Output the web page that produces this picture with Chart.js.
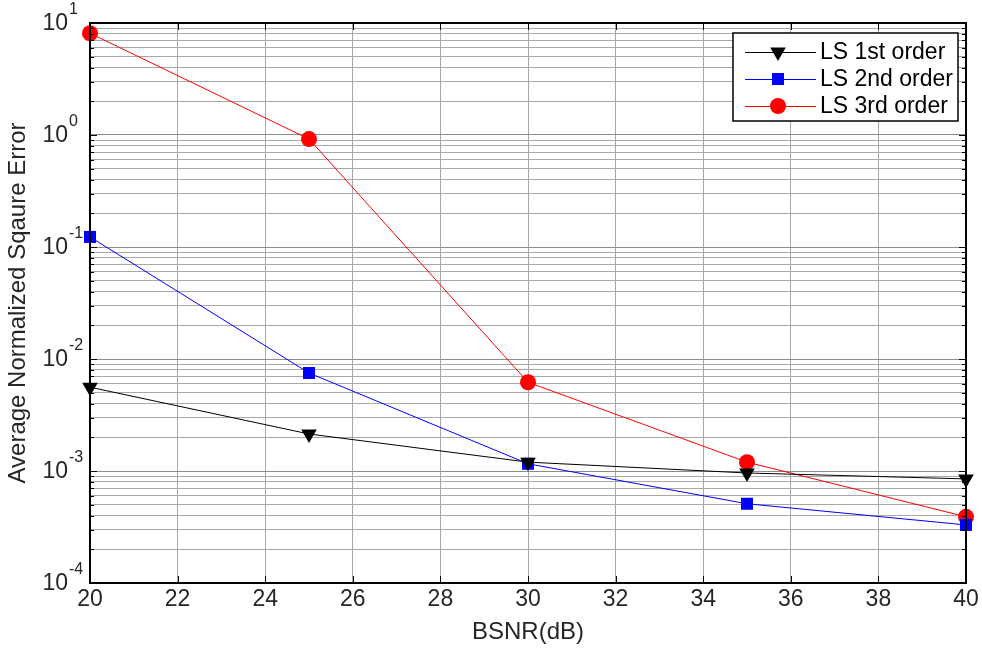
<!DOCTYPE html>
<html>
<head>
<meta charset="utf-8">
<script src="https://cdn.jsdelivr.net/npm/chart.js@4.4.1/dist/chart.umd.min.js"></script>
<style>
  html, body { margin: 0; padding: 0; background: #fff; }
  canvas { display: block; }
</style>
</head>
<body>
<canvas id="chart" width="982" height="648"></canvas>
<script>
// values
const bsnr = [20, 25, 30, 35, 40];
const ls1st = [0.0056, 0.00214, 0.0012, 0.00096, 0.00085];
const ls2nd = [0.123, 0.0075, 0.00116, 0.00051, 0.00033];
const ls3rd = [8.1, 0.92, 0.0062, 0.0012, 0.00039];
const seriesNames = ['LS 1st order', 'LS 2nd order', 'LS 3rd order'];
const xTicks = [20, 22, 24, 26, 28, 30, 32, 34, 36, 38, 40];
const decades = [-4, -3, -2, -1, 0, 1];

const FONT = 'Arial, "Liberation Sans", Helvetica, sans-serif';
const TEXT = '#262626';

function toPoints(ys) {
  return bsnr.map((x, i) => ({ x, y: ys[i] }));
}

// every 1..9 x 10^n line, like the MATLAB minor log grid
function logTicks() {
  const out = [];
  decades.forEach((e) => {
    for (let m = 1; m <= 9; m++) {
      const v = m * Math.pow(10, e);
      if (v <= 10.0001) out.push({ value: v, major: m === 1 });
    }
  });
  return out;
}

// frame, inward ticks, power-of-ten labels, legend
const matlabAxesPlugin = {
  id: 'matlabAxes',
  afterDraw(chart) {
    const { ctx, chartArea: a } = chart;
    const ys = chart.scales.y;
    const xs = chart.scales.x;
    ctx.save();

    // tick marks on all four sides
    ctx.strokeStyle = '#000';
    ctx.lineWidth = 1;
    ys.ticks.forEach((t) => {
      const y = Math.round(ys.getPixelForValue(t.value)) + 0.5;
      const len = t.major ? 7 : 4;
      ctx.beginPath();
      ctx.moveTo(a.left, y); ctx.lineTo(a.left + len, y);
      ctx.moveTo(a.right, y); ctx.lineTo(a.right - len, y);
      ctx.stroke();
    });
    xTicks.forEach((v) => {
      const x = Math.round(xs.getPixelForValue(v)) + 0.5;
      ctx.beginPath();
      ctx.moveTo(x, a.bottom); ctx.lineTo(x, a.bottom - 7);
      ctx.moveTo(x, a.top); ctx.lineTo(x, a.top + 7);
      ctx.stroke();
    });

    // box
    ctx.lineWidth = 2;
    ctx.strokeRect(a.left, a.top, a.right - a.left, a.bottom - a.top);

    // y labels as 10 with a raised exponent
    ctx.fillStyle = TEXT;
    ctx.textBaseline = 'middle';
    decades.forEach((e) => {
      const y = ys.getPixelForValue(Math.pow(10, e));
      ctx.font = `23px ${FONT}`;
      ctx.textAlign = 'right';
      ctx.fillText('10', 68, y + 1);
      ctx.font = `16px ${FONT}`;
      ctx.textAlign = 'left';
      ctx.fillText(String(e), 69, y - 13);
    });

    // legend
    const lx = 733, ly = 33, lw = 225, lh = 88;
    ctx.fillStyle = '#fff';
    ctx.fillRect(lx, ly, lw, lh);
    ctx.strokeStyle = '#000';
    ctx.lineWidth = 1.5;
    ctx.strokeRect(lx, ly, lw, lh);
    chart.data.datasets.forEach((ds, i) => {
      const cy = ly + 19 + i * 27;
      ctx.strokeStyle = ds.borderColor;
      ctx.lineWidth = 1;
      ctx.beginPath();
      ctx.moveTo(745, cy + 0.5); ctx.lineTo(816, cy + 0.5);
      ctx.stroke();
      ctx.fillStyle = ds.pointBackgroundColor;
      Chart.helpers.drawPoint(ctx, {
        pointStyle: ds.pointStyle,
        radius: ds.pointRadius,
        rotation: ds.pointRotation || 0,
        borderWidth: 0
      }, 778, cy);
      ctx.fillStyle = '#000';
      ctx.font = `23px ${FONT}`;
      ctx.textAlign = 'left';
      ctx.textBaseline = 'middle';
      ctx.fillText(ds.label, 820, cy + 1);
    });

    ctx.restore();
  }
};

const ctx = document.getElementById('chart').getContext('2d');
new Chart(ctx, {
  type: 'line',
  data: {
    datasets: [
      {
        label: seriesNames[0],
        data: toPoints(ls1st),
        borderColor: '#000',
        borderWidth: 1,
        pointStyle: 'triangle',
        pointRotation: 180,
        pointRadius: 9,
        pointBackgroundColor: '#000',
        pointBorderWidth: 0
      },
      {
        label: seriesNames[1],
        data: toPoints(ls2nd),
        borderColor: '#0000ff',
        borderWidth: 1,
        pointStyle: 'rect',
        pointRadius: 8.5,
        pointBackgroundColor: '#0000ff',
        pointBorderWidth: 0
      },
      {
        label: seriesNames[2],
        data: toPoints(ls3rd),
        borderColor: '#ff0000',
        borderWidth: 1,
        pointStyle: 'circle',
        pointRadius: 8,
        pointBackgroundColor: '#ff0000',
        pointBorderWidth: 0
      }
    ]
  },
  options: {
    responsive: false,
    animation: false,
    clip: false,
    layout: { padding: { top: 23, right: 16, left: 0, bottom: 0 } },
    plugins: {
      legend: { display: false },
      tooltip: { enabled: false }
    },
    scales: {
      x: {
        type: 'linear',
        min: 20,
        max: 40,
        afterBuildTicks(scale) { scale.ticks = xTicks.map((v) => ({ value: v })); },
        afterFit(scale) { scale.height = 65; },
        grid: { color: '#a8a8a8', lineWidth: 1, drawTicks: false },
        border: { display: false },
        ticks: { color: TEXT, padding: 3, font: { family: FONT, size: 23 } },
        title: {
          display: true,
          text: 'BSNR(dB)',
          color: TEXT,
          font: { family: FONT, size: 24 },
          padding: { top: 0, bottom: 1 }
        }
      },
      y: {
        type: 'logarithmic',
        min: 1e-4,
        max: 10,
        afterBuildTicks(scale) { scale.ticks = logTicks(); },
        afterFit(scale) { scale.width = 90; },
        grid: {
          color: (c) => (c.tick && c.tick.major ? '#8c8c8c' : '#a8a8a8'),
          lineWidth: 1,
          drawTicks: false
        },
        border: { display: false },
        ticks: { display: false },
        title: {
          display: true,
          text: 'Average Normalized Sqaure Error',
          color: TEXT,
          font: { family: FONT, size: 24 },
          padding: { top: 4, bottom: 0 }
        }
      }
    }
  },
  plugins: [matlabAxesPlugin]
});
</script>
</body>
</html>
